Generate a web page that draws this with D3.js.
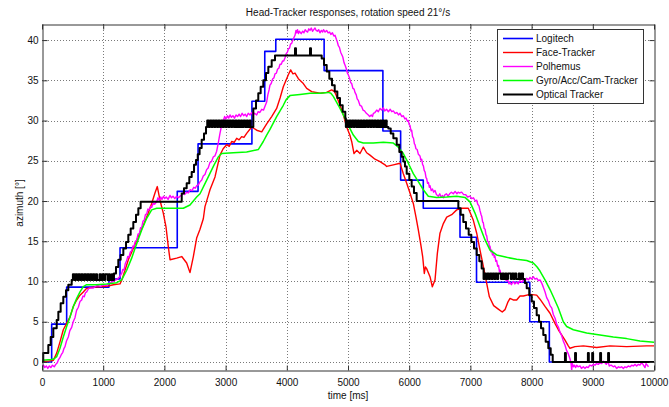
<!DOCTYPE html>
<html>
<head>
<meta charset="utf-8">
<script src="https://cdn.jsdelivr.net/npm/d3@7"></script>
<style>
body { margin: 0; background: #fff; }
text { font-family: "Liberation Sans", Arial, sans-serif; }
</style>
</head>
<body>
<script>
// ticks
const xTicks = [0, 1000, 2000, 3000, 4000, 5000, 6000, 7000, 8000, 9000, 10000];
const yTicks = [0, 5, 10, 15, 20, 25, 30, 35, 40];

const seriesNames = ["Logitech", "Face-Tracker", "Polhemus", "Gyro/Acc/Cam-Tracker", "Optical Tracker"];
const seriesColors = ["#0000ff", "#ff0000", "#ff00ff", "#00ff00", "#000000"];

// [time ms, azimuth deg] -- step function
const logitech = [[0,0],[158,4.7],[403,9.3],[1095,10.3],[1275,14.2],[2210,21.2],[2550,27.1],[3430,32.4],
    [3640,38.6],[3820,40.1],[4610,36.2],[5570,28.7],[5860,22.6],[6230,19.1],[6830,15.5],[7100,9.9],
    [7970,5.0],[8290,0],[10000,0]];

const faceTracker = [[0,0.1],[100,0.1],[185,0.2],[240,1.1],[294,2.5],[348,4.0],[403,4.8],[458,5.6],[512,6.9],
    [567,7.7],[621,8.3],[675,8.7],[730,9.15],[838,9.3],[948,9.35],[1057,9.4],[1166,9.6],[1275,9.7],[1310,10.3],
    [1356,11.4],[1411,12.7],[1492,14.1],[1574,15.6],[1656,17.0],[1737,18.5],[1792,19.7],[1846,21.0],[1884,21.8],
    [1928,20.1],[1982,18.5],[2026,16.8],[2064,14.3],[2092,12.7],[2201,12.9],[2283,13.1],[2364,12.3],[2418,11.1],
    [2473,13.1],[2527,15.4],[2582,16.5],[2636,17.8],[2663,19.3],[2718,20.7],[2745,21.4],[2827,23.0],[2908,25.7],
    [2960,26.5],[3018,27.0],[3060,26.8],[3099,27.4],[3140,27.3],[3181,27.8],[3220,27.6],[3262,28.0],[3300,27.9],
    [3344,28.4],[3426,29.2],[3508,28.8],[3590,28.6],
    [3671,29.6],[3753,30.5],[3834,31.5],[3890,32.8],[3943,34.2],[4025,35.7],[4063,36.3],[4100,35.8],[4134,35.9],
    [4189,35.2],[4270,34.6],[4325,34.0],[4406,33.6],[4542,33.4],[4651,33.5],[4733,33.8],[4780,33.6],[4815,33.0],
    [4869,31.9],[4924,30.7],[4978,29.2],[5030,28.2],[5060,27.4],[5098,25.9],[5142,26.3],[5196,25.9],[5230,26.4],
    [5250,26.7],[5305,26.0],[5359,25.7],[5441,25.2],[5523,24.9],[5605,24.5],[5632,24.3],[5741,24.5],[5850,24.7],
    [5904,23.4],[5959,22.2],[6013,21.0],[6067,19.7],[6111,18.0],[6149,16.4],[6187,14.7],[6220,13.1],[6247,11.0],
    [6265,11.8],[6285,11.6],[6340,10.6],[6378,9.35],[6422,10.2],[6460,13.5],[6503,16.0],[6558,17.2],[6613,18.0],
    [6694,18.3],[6776,18.9],[6857,19.1],[6966,19.1],[7048,17.6],[7103,16.0],[7157,13.9],[7200,12.3],[7255,10.2],
    [7310,8.1],[7380,7.0],[7450,6.6],[7520,6.2],[7565,6.5],[7610,7.4],[7647,7.9],[7700,7.7],[7756,7.7],[7810,8.2],
    [7865,8.2],[7974,8.4],[8083,8.3],[8137,7.8],[8219,6.9],[8301,6.05],[8382,4.8],[8437,4.0],[8491,3.35],
    [8546,2.7],[8600,2.0],[8627,1.7],[8709,1.9],[8846,2.0],[9063,1.8],[9281,2.0],[9553,1.9],[9880,2.0],[10000,2.0]];

const polhemus = [[0,-0.6],[25,-0.4],[45,-0.7],[70,-0.5],[95,-0.8],[120,-0.5],[145,-0.7],[170,-0.4],[200,-0.6],
    [225,-0.3],[250,-0.1],[267,0.25],[290,0.5],[315,0.9],[340,1.2],[360,1.7],[376,1.9],[400,2.6],[430,3.1],
    [455,3.9],[485,4.3],[510,5.0],[539,5.5],[565,6.4],[594,6.8],[620,7.5],[648,7.7],[670,8.2],[690,8.1],[710,8.6],
    [730,8.7],[760,9.1],[784,9.2],[840,9.2],[900,9.5],[960,9.4],[1000,9.6],[1060,9.5],[1100,9.8],[1160,10.0],
    [1230,10.3],[1270,10.6],[1302,11.0],[1320,11.5],[1340,11.4],[1360,12.2],[1384,12.6],[1400,13.1],[1420,13.0],
    [1445,13.7],[1465,13.8],[1485,14.4],[1500,14.3],[1525,15.0],[1547,15.1],[1570,15.9],[1590,15.9],[1610,16.7],
    [1629,16.7],[1650,17.5],[1670,17.6],[1690,18.3],[1711,18.4],[1730,19.0],[1750,18.9],[1770,19.3],[1792,19.2],
    [1815,19.7],[1840,19.6],[1874,19.9],[1895,20.4],[1915,20.1],[1940,20.5],[1960,20.2],[1985,20.6],[2005,20.3],
    [2030,20.5],[2060,20.2],[2092,20.7],[2115,20.4],[2140,20.6],[2170,20.3],[2200,20.6],[2230,20.4],[2255,20.6],
    [2280,20.7],[2300,21.0],[2330,20.8],[2364,21.1],[2390,21.0],[2420,21.4],[2450,21.3],[2480,21.7],[2505,21.6],
    [2527,21.9],[2555,22.0],[2582,22.4],[2610,22.6],[2635,23.1],[2663,23.3],[2690,23.9],[2715,24.1],[2745,24.8],
    [2770,24.9],[2800,25.5],[2825,25.6],[2854,26.2],[2880,27.2],[2908,28.4],[2935,29.4],[2963,30.0],[2985,30.5],
    [3005,30.2],[3030,30.6],[3050,30.3],[3072,30.7],[3095,30.4],[3120,30.6],[3145,30.3],[3170,30.7],[3195,30.5],
    [3220,30.8],[3245,30.5],[3270,30.9],[3295,30.6],[3320,30.8],[3345,30.5],[3370,30.9],[3399,30.7],[3425,31.0],
    [3450,30.7],[3475,30.9],[3508,30.7],[3530,31.1],[3560,31.0],[3590,31.4],[3620,31.3],[3650,31.9],[3671,32.3],
    [3690,33.2],[3710,33.8],[3725,34.4],[3745,34.6],[3770,35.2],[3790,35.3],[3807,35.8],[3830,35.9],[3850,36.4],
    [3870,36.5],[3889,37.0],[3910,37.0],[3930,37.4],[3950,37.4],[3971,37.8],[3990,38.3],[4010,38.5],[4025,38.9],
    [4045,39.0],[4060,39.5],[4080,39.6],[4100,40.0],[4115,40.3],[4134,40.6],[4150,41.2],[4161,40.9],[4175,41.3],
    [4190,40.8],[4205,41.1],[4216,41.0],[4235,40.8],[4260,41.1],[4280,40.9],[4300,41.3],[4320,41.1],[4340,41.0],
    [4360,41.4],[4379,41.2],[4400,41.5],[4420,41.1],[4440,41.3],[4461,41.5],[4480,41.2],[4500,41.1],[4520,41.3],
    [4542,40.9],[4565,41.2],[4585,41.0],[4600,41.3],[4625,41.0],[4651,41.2],[4675,40.9],[4700,41.0],[4720,40.7],
    [4745,40.9],[4770,40.5],[4788,40.6],[4810,40.1],[4825,39.8],[4842,39.3],[4860,39.1],[4880,38.5],[4897,38.2],
    [4915,37.9],[4935,37.2],[4951,36.9],[4970,36.5],[4990,35.9],[5005,35.7],[5025,35.3],[5045,34.7],[5060,34.6],
    [5080,34.0],[5100,33.9],[5114,33.5],[5135,33.2],[5150,32.7],[5169,32.5],[5195,31.9],[5220,31.8],[5245,31.3],
    [5270,31.2],[5300,30.9],[5332,30.7],[5355,30.5],[5380,30.7],[5400,30.5],[5414,30.9],[5440,31.0],[5470,31.3],
    [5495,31.1],[5523,31.5],[5550,31.3],[5577,31.6],[5600,31.2],[5630,31.4],[5660,31.1],[5690,31.4],[5715,31.1],
    [5741,31.2],[5770,30.9],[5800,31.0],[5825,30.7],[5850,30.9],[5880,30.5],[5904,30.6],[5930,30.2],[5950,30.3],
    [5970,29.9],[5986,30.0],[6000,29.5],[6013,29.4],[6030,28.7],[6040,28.8],[6055,28.0],[6070,27.8],[6085,27.1],
    [6095,27.0],[6110,26.5],[6130,26.4],[6150,25.8],[6176,25.6],[6190,25.1],[6204,25.2],[6220,24.5],[6231,24.4],
    [6245,23.8],[6260,23.6],[6275,22.9],[6285,22.8],[6300,22.2],[6315,22.3],[6330,21.7],[6340,21.9],[6360,21.3],
    [6380,21.5],[6400,21.1],[6422,21.3],[6445,20.8],[6476,20.6],[6500,20.9],[6520,20.5],[6545,20.7],[6560,20.4],
    [6585,20.8],[6610,20.9],[6635,20.6],[6660,20.9],[6690,21.1],[6721,20.9],[6750,21.2],[6780,20.9],[6800,21.1],
    [6820,21.0],[6857,21.1],[6890,20.8],[6920,20.8],[6955,20.5],[6993,20.6],[7020,20.3],[7050,20.4],[7080,20.0],
    [7103,20.1],[7120,19.6],[7140,19.4],[7157,18.8],[7175,18.3],[7185,18.1],[7200,17.4],[7211,17.3],[7225,16.6],
    [7240,16.5],[7255,15.8],[7266,15.7],[7280,15.0],[7300,14.9],[7310,14.2],[7320,14.4],[7335,13.7],[7348,13.9],
    [7360,13.3],[7375,13.6],[7390,13.0],[7400,13.2],[7415,12.5],[7429,12.6],[7445,11.9],[7460,12.0],[7475,11.2],
    [7484,11.4],[7500,10.8],[7520,11.0],[7540,10.5],[7565,10.7],[7585,10.1],[7610,10.2],[7630,9.7],[7647,9.9],
    [7670,9.6],[7700,10.0],[7725,9.7],[7756,9.9],[7780,9.7],[7810,10.1],[7840,9.9],[7865,10.2],[7890,10.0],
    [7920,10.4],[7950,10.2],[7974,10.5],[8000,10.3],[8028,10.6],[8055,10.3],[8083,10.4],[8110,10.1],[8137,10.2],
    [8165,9.8],[8191,9.3],[8220,8.7],[8246,8.0],[8275,7.6],[8301,7.0],[8330,6.7],[8355,5.9],[8385,5.4],[8410,4.7],
    [8440,4.3],[8464,3.7],[8490,3.3],[8518,2.6],[8545,2.1],[8573,1.4],[8600,1.0],[8627,0.4],[8645,-0.2],
    [8655,-1.1],[8665,-0.2],[8685,-0.6],[8700,-0.4],[8720,-0.7],[8737,-0.4],[8760,-0.6],[8791,-0.5],[8815,-0.8],
    [8846,-0.6],[8870,-0.8],[8900,-0.6],[8925,-0.7],[8950,-0.4],[8980,-0.5],[9008,-0.3],[9035,-0.4],[9060,-0.2],
    [9090,-0.3],[9118,-0.1],[9145,-0.2],[9172,0.1],[9200,-0.1],[9220,-0.3],[9240,0.0],[9254,-0.1],[9270,-0.5],
    [9300,-0.4],[9335,-0.6],[9360,-0.5],[9390,-0.8],[9420,-0.6],[9444,-0.7],[9470,-0.6],[9499,-0.8],[9525,-0.6],
    [9553,-0.7],[9580,-0.5],[9610,-0.6],[9635,-0.4],[9662,-0.5],[9690,-0.3],[9716,-0.5],[9745,-0.3],[9770,-0.4],
    [9798,-0.1],[9820,-0.3],[9853,-0.7],[9870,-0.2],[9890,-0.4],[9910,-0.6]];

const gyroTracker = [[0,0.2],[150,0.3],[200,0.4],[240,0.66],[294,1.7],[348,3.1],[403,4.4],[458,5.6],[512,6.9],
    [567,7.9],[621,8.7],[675,9.35],[730,9.6],[893,9.6],[1057,9.7],[1220,9.85],[1302,10.2],[1384,11.4],[1465,12.9],
    [1547,14.7],[1629,16.4],[1711,17.85],[1792,18.9],[1874,19.1],[2145,19.1],[2309,19.1],[2418,19.5],[2527,20.5],
    [2582,20.9],[2691,22.6],[2800,24.3],[2882,25.5],[2936,25.9],[3126,26.0],[3344,26.1],[3534,26.4],[3616,27.4],
    [3671,28.2],[3725,28.9],[3834,30.5],[3943,31.9],[3990,32.6],[4052,33.1],[4216,33.25],[4379,33.4],[4542,33.4],
    [4679,33.5],[4720,33.4],[4760,33.0],[4842,31.9],[4924,30.7],[5005,29.4],[5087,28.2],[5169,27.4],[5250,27.2],
    [5414,27.2],[5577,27.3],[5741,27.2],[5822,26.7],[5904,25.9],[5986,24.7],[6067,23.4],[6149,22.4],[6231,21.4],
    [6312,20.6],[6449,20.45],[6613,20.5],[6776,20.6],[6912,20.45],[6993,19.9],[7075,18.5],[7157,16.8],[7238,15.2],
    [7320,13.9],[7429,13.3],[7592,13.0],[7756,12.75],[7920,12.6],[8028,12.3],[8090,11.8],[8137,11.3],[8219,10.2],
    [8301,9.0],[8355,8.1],[8437,6.7],[8518,5.0],[8573,4.4],[8682,4.0],[8900,3.6],[9118,3.35],[9335,3.1],
    [9553,2.9],[9771,2.6],[10000,2.45]];

// optical tracker: staircase (step function)
const opticalSteps = [[0,0],[20,1.1],[103,2.1],[142,3.1],[185,4.2],[240,5.2],[267,6.25],[305,7.3],[348,8.1],
    [392,8.9],[430,9.6],[485,10.2],
    [1176,11.0],[1209,11.8],[1247,12.7],[1285,13.3],[1329,14.1],[1373,14.9],[1410,15.8],[1449,16.6],[1492,17.4],
    [1536,18.3],[1574,19.1],[1612,19.9],[2283,20.95],[2320,21.6],[2364,22.2],[2407,23.0],[2446,23.6],[2484,24.5],
    [2516,25.1],[2545,25.8],[2575,26.6],[2609,27.6],[2647,28.4],[2680,29.2],
    [3453,31.5],[3497,32.5],[3534,33.4],[3573,34.2],[3616,35.0],[3660,35.9],[3698,36.7],[3753,37.5],[3807,38.1],
    [4134,39.0],[4150,38.1],[4379,39.0],[4395,38.1],[4570,37.7],[4608,36.9],[4652,36.1],[4695,35.2],[4739,34.4],
    [4783,33.6],[4826,32.8],[4869,31.9],[4913,31.1],[4956,30.3],[4965,29.2],
    [5659,29.0],[5698,28.4],[5741,27.8],[5796,27.0],[5839,26.1],[5877,25.5],[5904,24.9],[5931,24.3],[5959,23.4],
    [6002,22.6],[6040,21.8],[6078,21.0],[6122,20.0],[6803,19.1],[6841,18.3],[6884,17.4],[6928,16.6],[6972,15.8],
    [7015,14.9],[7059,14.1],[7103,13.3],[7146,12.5],[7184,11.6],[7215,10.3],
    [7890,9.8],[7920,9.15],[7962,8.3],[8002,7.5],[8039,6.7],[8083,5.8],[8121,5.0],[8154,4.2],[8191,3.35],
    [8230,2.5],[8273,1.7],[8312,0.9],[8345,0],[8545,1.1],[8560,0],[8710,1.1],[8725,0],[8920,1.1],[8935,0],
    [8990,1.1],[9005,0],[9120,1.1],[9135,0],[9250,1.1],[9265,0],[10000,0]];

// optical tracker flicker between two adjacent levels: [low, high] and the toggle times (first toggle goes high)
const opticalBandLevels = [[10.2, 10.9], [29.2, 30.0], [29.2, 30.0], [10.3, 11.0]];
const opticalBandToggles = [
    [505,530,550,575,595,620,640,665,690,720,740,765,785,810,830,855,880,900,940,960,985,1010,1030,1070,1090,1110,1140,1160],
    [2700,2725,2745,2770,2790,2815,2835,2860,2880,2905,2925,2950,2975,3000,3020,3045,3065,3090,3110,3135,3160,3180,
     3205,3225,3250,3270,3295,3320,3345,3365,3390,3410],
    [4975,5000,5020,5045,5065,5090,5110,5135,5160,5180,5205,5225,5250,5270,5295,5320,5340,5365,5385,5410,5430,5455,
     5480,5500,5525,5545,5570,5590,5615,5632],
    [7230,7255,7275,7300,7320,7345,7365,7390,7410,7435,7455,7500,7525,7545,7570,7590,7615,7660,7680,7705,7725,7750,
     7790,7810,7835,7860]
];

function buildOptical() {
    let pts = opticalSteps.slice();
    opticalBandToggles.forEach((times, b) => {
        let [lo, hi] = opticalBandLevels[b];
        times.forEach((t, i) => pts.push([t, i % 2 === 0 ? hi : lo]));
    });
    pts.sort((a, b) => a[0] - b[0]);
    return pts;
}

const chartW = 669, chartH = 407;
const plotL = 42, plotR = 654, plotT = 24, plotB = 370;

let svg = d3.select("body").append("svg")
    .attr("width", chartW)
    .attr("height", chartH);

let x = d3.scaleLinear().domain([0, 10000]).range([plotL, plotR]);
let y = d3.scaleLinear().domain([-1, 42]).range([plotB, plotT]);

let px = v => Math.round(x(v)) + 0.5;
let py = v => Math.round(y(v)) + 0.5;

// grid
let grid = svg.append("g")
    .attr("stroke", "#7a7a7a")
    .attr("stroke-dasharray", "1,2")
    .attr("stroke-width", 1);
grid.selectAll(".gx")
    .data(xTicks.slice(1, -1))
    .join("line")
    .attr("x1", px).attr("x2", px)
    .attr("y1", plotT).attr("y2", plotB);
grid.selectAll(".gy")
    .data(yTicks)
    .join("line")
    .attr("x1", plotL).attr("x2", plotR)
    .attr("y1", py).attr("y2", py);

svg.append("clipPath").attr("id", "plot-clip")
    .append("rect")
    .attr("x", plotL).attr("y", plotT)
    .attr("width", plotR - plotL).attr("height", plotB - plotT);

let line = d3.line().x(d => x(d[0])).y(d => y(d[1]));
let stepLine = d3.line().x(d => x(d[0])).y(d => y(d[1])).curve(d3.curveStepAfter);

let plot = svg.append("g").attr("clip-path", "url(#plot-clip)");

let series = [
    {data: logitech, gen: stepLine, width: 1.6},
    {data: faceTracker, gen: line, width: 1.4},
    {data: polhemus, gen: line, width: 1.4},
    {data: gyroTracker, gen: line, width: 1.5},
    {data: buildOptical(), gen: stepLine, width: 2}
];

series.forEach((s, i) => {
    plot.append("path")
        .attr("d", s.gen(s.data))
        .attr("fill", "none")
        .attr("stroke", seriesColors[i])
        .attr("stroke-width", s.width)
        .attr("stroke-linejoin", "round");
});

// axes (ticks inward, box on all four sides)
let axisColor = "#333";
let fmt = d3.format("d");

let gb = svg.append("g").attr("transform", `translate(0,${plotB + 0.5})`)
    .call(d3.axisBottom(x).tickValues(xTicks).tickSize(-5).tickSizeOuter(0).tickPadding(8).tickFormat(fmt));
let gt = svg.append("g").attr("transform", `translate(0,${plotT + 0.5})`)
    .call(d3.axisTop(x).tickValues(xTicks).tickSize(-5).tickSizeOuter(0).tickFormat(""));
let gl = svg.append("g").attr("transform", `translate(${plotL + 0.5},0)`)
    .call(d3.axisLeft(y).tickValues(yTicks).tickSize(-5).tickSizeOuter(0).tickPadding(4).tickFormat(fmt));
let gr = svg.append("g").attr("transform", `translate(${plotR + 0.5},0)`)
    .call(d3.axisRight(y).tickValues(yTicks).tickSize(-5).tickSizeOuter(0).tickFormat(""));

[gb, gt, gl, gr].forEach(g => {
    g.select(".domain").attr("stroke", axisColor);
    g.selectAll(".tick line").attr("stroke", axisColor);
    g.selectAll("text")
        .attr("fill", "#111")
        .style("font-size", "10px")
        .style("font-family", '"Liberation Sans", Arial, sans-serif');
});

// titles
svg.append("text")
    .attr("x", (plotL + plotR) / 2)
    .attr("y", 16)
    .attr("text-anchor", "middle")
    .style("font-size", "10px")
    .attr("fill", "#111")
    .text("Head-Tracker responses, rotation speed 21°/s");

svg.append("text")
    .attr("x", (plotL + plotR) / 2)
    .attr("y", 399)
    .attr("text-anchor", "middle")
    .style("font-size", "10px")
    .attr("fill", "#111")
    .text("time [ms]");

svg.append("text")
    .attr("transform", "translate(23,203) rotate(-90)")
    .attr("text-anchor", "middle")
    .style("font-size", "10px")
    .attr("fill", "#111")
    .text("azimuth [°]");

// legend
let legend = svg.append("g");
legend.append("rect")
    .attr("x", 497.5).attr("y", 29.5)
    .attr("width", 146).attr("height", 74)
    .attr("fill", "#fff")
    .attr("stroke", axisColor);

seriesNames.forEach((name, i) => {
    let ly = 38.5 + i * 14;
    legend.append("line")
        .attr("x1", 503).attr("x2", 533)
        .attr("y1", ly).attr("y2", ly)
        .attr("stroke", seriesColors[i])
        .attr("stroke-width", series[i].width);
    legend.append("text")
        .attr("x", 536).attr("y", ly + 3.5)
        .style("font-size", "10px")
        .attr("fill", "#111")
        .text(name);
});
</script>
</body>
</html>
